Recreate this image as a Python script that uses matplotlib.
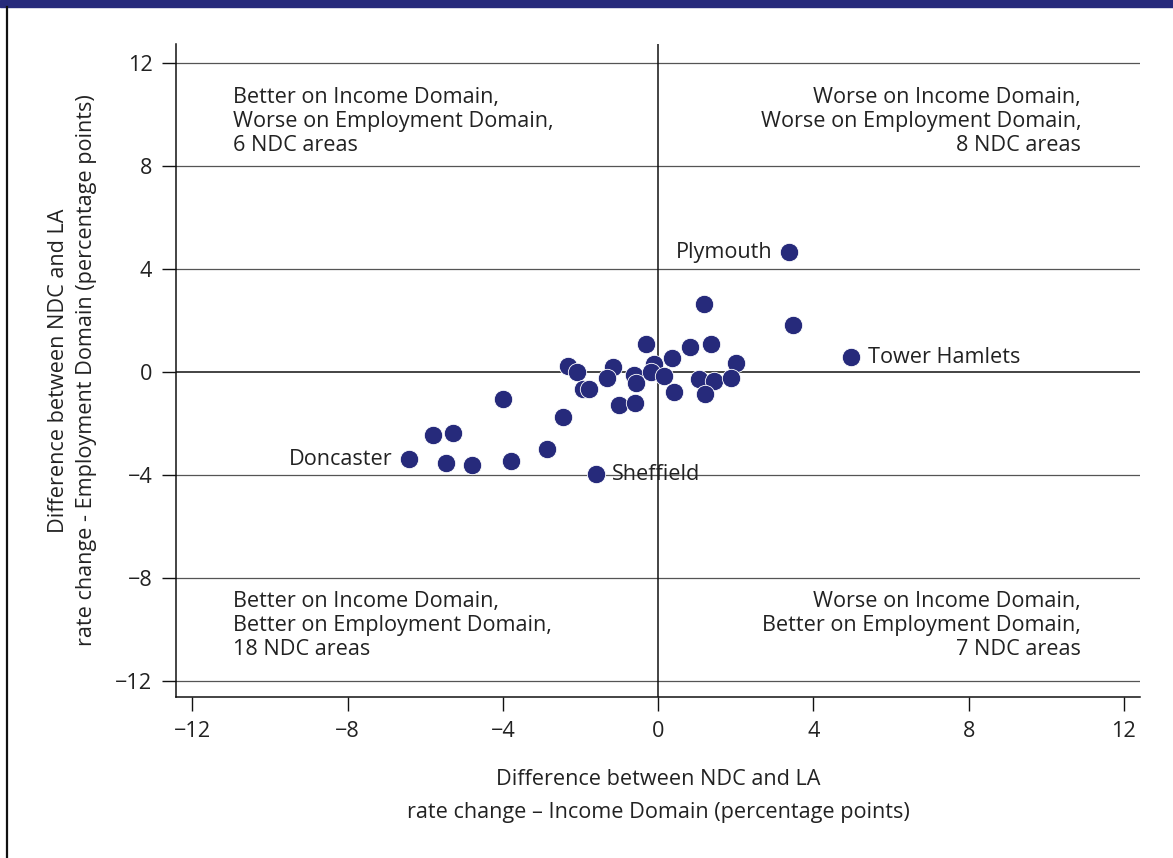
import matplotlib.pyplot as plt
from matplotlib.patches import Rectangle
from matplotlib.lines import Line2D

plt.rcParams['font.family'] = ['Open Sans', 'DejaVu Sans']

# income domain difference (x), employment domain difference (y)
x_vals = [3.38, 1.19, 3.48, 4.97, -0.30, 0.82, 1.36, 0.36, 2.01, -0.10,
          -2.32, -2.08, -1.16, -1.31, -0.62, -0.57, -0.18, 0.15, 1.06, 1.44,
          1.87, 0.42, 1.20, -1.93, -1.77, -1.00, -0.59, -3.99, -2.45, -5.81,
          -5.29, -6.42, -5.46, -4.79, -3.80, -2.87, -1.61]
y_vals = [4.66, 2.64, 1.83, 0.58, 1.09, 0.96, 1.09, 0.55, 0.35, 0.31,
          0.24, 0.02, 0.18, -0.23, -0.12, -0.44, 0.02, -0.16, -0.25, -0.34,
          -0.21, -0.79, -0.85, -0.66, -0.67, -1.29, -1.21, -1.05, -1.74, -2.43,
          -2.35, -3.38, -3.53, -3.62, -3.46, -2.99, -3.96]

labels = {0: ('Plymouth', 'left'), 3: ('Tower Hamlets', 'right'),
          31: ('Doncaster', 'left'), 36: ('Sheffield', 'right')}

ticks = [-12, -8, -4, 0, 4, 8, 12]

quad_text = [
    (-10.95, 11.08, 'left', 'top',
     'Better on Income Domain,\nWorse on Employment Domain,\n6 NDC areas'),
    (10.9, 11.08, 'right', 'top',
     'Worse on Income Domain,\nWorse on Employment Domain,\n8 NDC areas'),
    (-10.95, -8.5, 'left', 'top',
     'Better on Income Domain,\nBetter on Employment Domain,\n18 NDC areas'),
    (10.9, -8.5, 'right', 'top',
     'Worse on Income Domain,\nBetter on Employment Domain,\n7 NDC areas'),
]

navy = '#262a7b'
txt = '#222222'
fs = 15.6

fig = plt.figure(figsize=(11.73, 8.58), dpi=100)
ax = fig.add_axes([0.150, 0.1876, 0.822, 0.761])

# frame bits of the figure
fig.patches.append(Rectangle((0, 1 - 7 / 858), 1, 7 / 858, transform=fig.transFigure,
                             color=navy, zorder=0))
fig.lines.append(Line2D([6.5 / 1173, 6.5 / 1173], [0, 1 - 7 / 858], transform=fig.transFigure,
                        color='#111111', lw=1.6))

for t in ticks:
    ax.axhline(t, color='#111111' if t == 0 else '#555555', lw=1.1 if t == 0 else 0.9, zorder=1)
ax.axvline(0, color='#111111', lw=1.1, zorder=1)

ax.scatter(x_vals, y_vals, s=175, color=navy, edgecolor='white', linewidth=0.6, zorder=3)

for i, (name, side) in labels.items():
    if side == 'left':
        ax.annotate(name, (x_vals[i], y_vals[i]), xytext=(-12, 0), textcoords='offset points',
                    ha='right', va='center', fontsize=fs, color=txt)
    else:
        ax.annotate(name, (x_vals[i], y_vals[i]), xytext=(12, 0), textcoords='offset points',
                    ha='left', va='center', fontsize=fs, color=txt)

for qx, qy, ha, va, s in quad_text:
    ax.text(qx, qy, s, ha=ha, va=va, fontsize=fs, color=txt, linespacing=1.18)

ax.set_xlim(-12.42, 12.42)
ax.set_ylim(-12.62, 12.74)
ax.set_xticks(ticks)
ax.set_yticks(ticks)
ax.tick_params(length=10, width=1, color='#111111', labelsize=fs, labelcolor=txt, pad=7)
for sp in ['top', 'right']:
    ax.spines[sp].set_visible(False)
for sp in ['left', 'bottom']:
    ax.spines[sp].set_linewidth(1.1)
    ax.spines[sp].set_color('#111111')

ax.set_xlabel('Difference between NDC and LA\nrate change \u2013 Income Domain (percentage points)',
              fontsize=fs, color=txt, labelpad=20, linespacing=1.7)
ax.set_ylabel('Difference between NDC and LA\nrate change - Employment Domain (percentage points)',
              fontsize=fs, color=txt, labelpad=13, linespacing=1.45)

fig.savefig('out.png', dpi=100)
